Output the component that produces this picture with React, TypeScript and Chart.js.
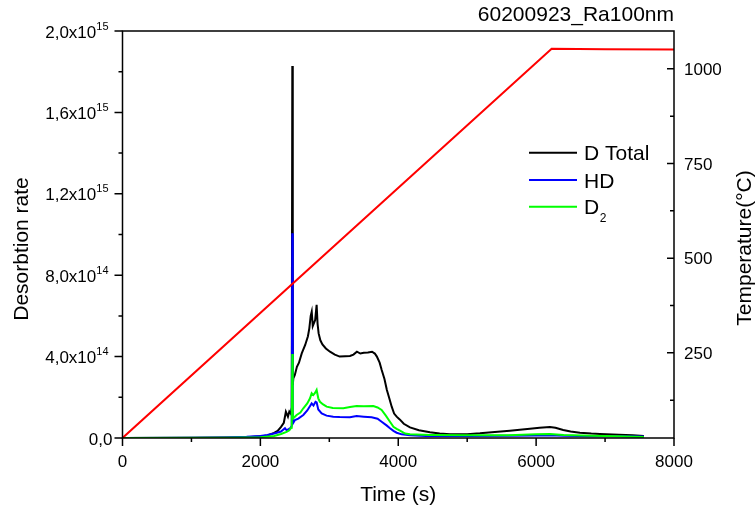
import React, { useEffect, useRef } from "react";
import { Chart, registerables } from "chart.js";

Chart.register(...registerables);

// ---- data (desorption rates in units of 1e14, time in s, temperature in °C)
const timeTotal = [0, 1000, 1500, 1800, 2000, 2100, 2200, 2250, 2300, 2340, 2370, 2400, 2420, 2440, 2455, 2463, 2470, 2478, 2500, 2530, 2560, 2600, 2650, 2690, 2710, 2730, 2745, 2760, 2777, 2795, 2816, 2830, 2845, 2870, 2900, 2950, 3010, 3080, 3150, 3230, 3300, 3350, 3400, 3450, 3500, 3560, 3620, 3660, 3690, 3730, 3760, 3800, 3835, 3870, 3905, 3940, 3977, 4025, 4080, 4170, 4300, 4460, 4600, 4750, 5000, 5185, 5400, 5620, 5800, 5910, 6050, 6200, 6280, 6393, 6500, 6635, 6800, 6925, 7200, 7400, 7563];
const dTotal = [0, 0.01, 0.02, 0.04, 0.08, 0.12, 0.25, 0.35, 0.55, 0.75, 1.29, 1.05, 1.3, 1.2, 1.5, 18.28, 2.6, 2.93, 3.1, 3.5, 3.7, 4.16, 4.57, 5.0, 5.39, 6.0, 6.21, 5.5, 5.64, 5.8, 6.54, 5.6, 5.14, 4.8, 4.6, 4.4, 4.24, 4.1, 4.0, 4.02, 4.03, 4.1, 4.24, 4.15, 4.19, 4.2, 4.24, 4.15, 4.0, 3.7, 3.34, 2.9, 2.36, 1.95, 1.54, 1.2, 1.05, 0.9, 0.7, 0.52, 0.38, 0.28, 0.22, 0.18, 0.19, 0.23, 0.3, 0.36, 0.42, 0.46, 0.5, 0.54, 0.5, 0.39, 0.32, 0.26, 0.22, 0.2, 0.16, 0.13, 0.1];

const timeHD = [0, 1000, 1500, 1800, 2000, 2100, 2200, 2300, 2357, 2380, 2405, 2440, 2455, 2463, 2470, 2502, 2550, 2623, 2680, 2744, 2770, 2800, 2816, 2840, 2889, 2960, 3057, 3150, 3299, 3396, 3500, 3614, 3700, 3759, 3830, 3880, 3930, 3977, 4050, 4170, 4400, 5000, 5600, 6000, 6200, 6400, 6800, 7200, 7563];
const hdValues = [0, 0.01, 0.03, 0.06, 0.1, 0.15, 0.22, 0.32, 0.48, 0.38, 0.43, 0.5, 0.6, 10.06, 0.7, 0.88, 0.95, 1.13, 1.35, 1.7, 1.6, 1.78, 1.75, 1.4, 1.21, 1.1, 1.05, 1.03, 1.02, 1.08, 1.05, 1.02, 0.95, 0.8, 0.62, 0.48, 0.35, 0.26, 0.18, 0.13, 0.1, 0.1, 0.11, 0.12, 0.13, 0.11, 0.09, 0.08, 0.07];

const timeD2 = [0, 1500, 2000, 2200, 2300, 2380, 2420, 2445, 2455, 2463, 2470, 2478, 2526, 2580, 2623, 2680, 2720, 2744, 2768, 2790, 2816, 2840, 2864, 2910, 2961, 3050, 3203, 3300, 3396, 3500, 3638, 3700, 3759, 3820, 3880, 3930, 3977, 4025, 4100, 4170, 4460, 5000, 5600, 6000, 6200, 6400, 6800, 7200, 7563];
const d2Values = [0, 0.01, 0.04, 0.1, 0.2, 0.3, 0.38, 0.5, 0.9, 4.13, 1.1, 0.97, 1.13, 1.25, 1.46, 1.7, 1.95, 2.2, 2.11, 2.2, 2.36, 1.95, 1.78, 1.65, 1.54, 1.48, 1.46, 1.52, 1.57, 1.56, 1.57, 1.5, 1.38, 1.1, 0.8, 0.55, 0.45, 0.36, 0.22, 0.18, 0.15, 0.13, 0.14, 0.18, 0.2, 0.15, 0.11, 0.08, 0.05];

const timeTemp = [0, 6225, 7000, 8000];
const tempValues = [25, 1053, 1052, 1051];

const seriesLabels = ["D Total", "HD", "D", "Temperature"];
const seriesColors = ["#000000", "#0000ff", "#00ff00", "#ff0000"];

const xMajorTicks = [0, 2000, 4000, 6000, 8000];
const xMinorTicks = [1000, 3000, 5000, 7000];
const leftMajorTicks = [0, 4, 8, 12, 16, 20];
const leftMinorTicks = [2, 6, 10, 14, 18];
const leftTickMantissa = ["0,0", "4,0x10", "8,0x10", "1,2x10", "1,6x10", "2,0x10"];
const leftTickExponent = ["", "14", "14", "15", "15", "15"];
const rightMajorTicks = [250, 500, 750, 1000];
const rightMinorTicks = [125, 375, 625, 875];

const TITLE = "60200923_Ra100nm";
const X_TITLE = "Time (s)";
const Y_TITLE = "Desorbtion rate";
const Y2_TITLE = "Temperature(°C)";

const FONT = '"Liberation Sans", Arial, sans-serif';

function pts(xs: number[], ys: number[]) {
  return xs.map((x, i) => ({ x, y: ys[i] }));
}

const decorPlugin = {
  id: "decor",
  afterDraw(chart: any) {
    const ctx = chart.ctx as CanvasRenderingContext2D;
    const a = chart.chartArea;
    const xs = chart.scales.x;
    const ys = chart.scales.y;
    const yr = chart.scales.y1;
    ctx.save();
    ctx.strokeStyle = "#000";
    ctx.fillStyle = "#000";
    ctx.lineWidth = 1.5;
    ctx.strokeRect(a.left, a.top, a.right - a.left, a.bottom - a.top);

    ctx.beginPath();
    xMajorTicks.forEach((v) => {
      const p = xs.getPixelForValue(v);
      ctx.moveTo(p, a.bottom);
      ctx.lineTo(p, a.bottom + 8);
    });
    xMinorTicks.forEach((v) => {
      const p = xs.getPixelForValue(v);
      ctx.moveTo(p, a.bottom);
      ctx.lineTo(p, a.bottom + 4);
    });
    leftMajorTicks.forEach((v) => {
      const p = ys.getPixelForValue(v);
      ctx.moveTo(a.left - 8, p);
      ctx.lineTo(a.left, p);
    });
    leftMinorTicks.forEach((v) => {
      const p = ys.getPixelForValue(v);
      ctx.moveTo(a.left - 4, p);
      ctx.lineTo(a.left, p);
    });
    rightMajorTicks.forEach((v) => {
      const p = yr.getPixelForValue(v);
      ctx.moveTo(a.right - 7, p);
      ctx.lineTo(a.right, p);
    });
    rightMinorTicks.forEach((v) => {
      const p = yr.getPixelForValue(v);
      ctx.moveTo(a.right - 4, p);
      ctx.lineTo(a.right, p);
    });
    ctx.stroke();

    // bottom tick labels
    ctx.font = `17px ${FONT}`;
    ctx.textAlign = "center";
    ctx.textBaseline = "alphabetic";
    xMajorTicks.forEach((v) => {
      ctx.fillText(String(v), xs.getPixelForValue(v), a.bottom + 29);
    });

    // right tick labels
    ctx.textAlign = "left";
    rightMajorTicks.forEach((v) => {
      ctx.fillText(String(v), a.right + 10, yr.getPixelForValue(v) + 6);
    });

    // left tick labels with superscript exponent
    leftMajorTicks.forEach((v, i) => {
      const p = ys.getPixelForValue(v);
      const exp = leftTickExponent[i];
      if (exp) {
        ctx.font = `11px ${FONT}`;
        ctx.textAlign = "right";
        const w = ctx.measureText(exp).width;
        ctx.fillText(exp, a.left - 14, p - 1.5);
        ctx.font = `17px ${FONT}`;
        ctx.fillText(leftTickMantissa[i], a.left - 14 - w, p + 6.5);
      } else {
        ctx.font = `17px ${FONT}`;
        ctx.textAlign = "right";
        ctx.fillText(leftTickMantissa[i], a.left - 10, p + 6.5);
      }
    });

    // titles
    ctx.font = `21px ${FONT}`;
    ctx.textAlign = "right";
    ctx.fillText(TITLE, a.right, 21);
    ctx.textAlign = "center";
    ctx.fillText(X_TITLE, (a.left + a.right) / 2, 501);

    ctx.save();
    ctx.translate(28, 249);
    ctx.rotate(-Math.PI / 2);
    ctx.fillText(Y_TITLE, 0, 0);
    ctx.restore();

    ctx.save();
    ctx.translate(751, 248);
    ctx.rotate(-Math.PI / 2);
    ctx.fillText(Y2_TITLE, 0, 0);
    ctx.restore();

    // legend (inside plot)
    const legendY = [152.7, 180, 206.7];
    for (let i = 0; i < 3; i++) {
      ctx.strokeStyle = seriesColors[i];
      ctx.lineWidth = 2;
      ctx.beginPath();
      ctx.moveTo(529, legendY[i]);
      ctx.lineTo(577, legendY[i]);
      ctx.stroke();
      ctx.font = `21px ${FONT}`;
      ctx.textAlign = "left";
      ctx.fillStyle = "#000";
      ctx.fillText(seriesLabels[i], 584, legendY[i] + 7.5);
      if (i === 2) {
        const w = ctx.measureText(seriesLabels[i]).width;
        ctx.font = `12px ${FONT}`;
        ctx.fillText("2", 584 + w + 0.5, legendY[i] + 15);
      }
    }
    ctx.restore();
  },
};

export default function App() {
  const ref = useRef<HTMLCanvasElement | null>(null);
  useEffect(() => {
    if (!ref.current) return;
    const chart = new Chart(ref.current, {
      type: "line",
      data: {
        datasets: [
          { label: seriesLabels[3], data: pts(timeTemp, tempValues), borderColor: seriesColors[3], borderWidth: 2, yAxisID: "y1", order: 0 },
          { label: seriesLabels[2] + "2", data: pts(timeD2, d2Values), borderColor: seriesColors[2], borderWidth: 2, yAxisID: "y", order: 1 },
          { label: seriesLabels[1], data: pts(timeHD, hdValues), borderColor: seriesColors[1], borderWidth: 2, yAxisID: "y", order: 2 },
          { label: seriesLabels[0], data: pts(timeTotal, dTotal), borderColor: seriesColors[0], borderWidth: 2, yAxisID: "y", order: 3 },
        ],
      },
      options: {
        animation: false,
        responsive: false,
        devicePixelRatio: 1,
        layout: { padding: { top: 31, left: 0, right: 0, bottom: 0 } },
        elements: { point: { radius: 0 }, line: { tension: 0 } },
        plugins: { legend: { display: false }, tooltip: { enabled: false }, title: { display: false } },
        scales: {
          x: {
            type: "linear", min: 0, max: 8000,
            grid: { display: false }, ticks: { display: false }, border: { display: false },
            afterFit: (s: any) => { s.height = 70; },
          },
          y: {
            type: "linear", position: "left", min: 0, max: 20,
            grid: { display: false }, ticks: { display: false }, border: { display: false },
            afterFit: (s: any) => { s.width = 122.5; },
          },
          y1: {
            type: "linear", position: "right", min: 25, max: 1100,
            grid: { display: false }, ticks: { display: false }, border: { display: false },
            afterFit: (s: any) => { s.width = 82; },
          },
        },
      },
      plugins: [decorPlugin],
    } as any);
    return () => chart.destroy();
  }, []);
  return (
    <div style={{ position: "absolute", left: 0, top: 0, width: 756, height: 508, background: "#fff" }}>
      <canvas ref={ref} width={756} height={508} style={{ display: "block" }} />
    </div>
  );
}
